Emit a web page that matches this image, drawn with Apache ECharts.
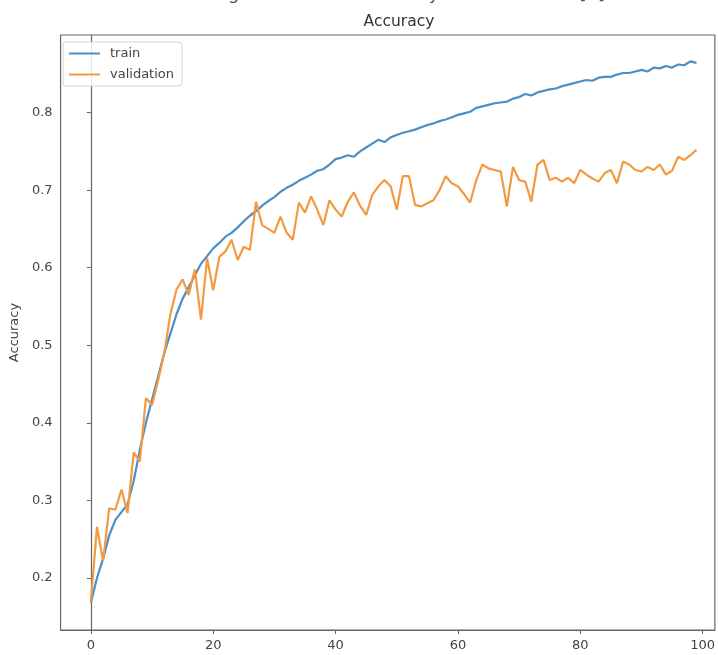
<!DOCTYPE html>
<html>
<head>
<meta charset="utf-8">
<script src="https://cdn.jsdelivr.net/npm/echarts@6/dist/echarts.min.js"></script>
<style>
  html, body { margin: 0; padding: 0; background: #fff; }
  #chart { width: 718px; height: 655px; }
</style>
</head>
<body>
<div id="chart"></div>
<script>
// accuracy per epoch
var trainAcc = [
  0.168, 0.200, 0.225, 0.255, 0.275, 0.285, 0.295, 0.325, 0.365, 0.400,
  0.430, 0.460, 0.490, 0.515, 0.540, 0.560, 0.575, 0.590, 0.605, 0.615,
  0.625, 0.632, 0.640, 0.645, 0.652, 0.660, 0.667, 0.673, 0.680, 0.686,
  0.691, 0.698, 0.703, 0.707, 0.712, 0.716, 0.720, 0.725, 0.727, 0.733,
  0.740, 0.742, 0.745, 0.743, 0.750, 0.755, 0.760, 0.765, 0.762, 0.768,
  0.771, 0.774, 0.776, 0.778, 0.781, 0.784, 0.786, 0.789, 0.791, 0.794,
  0.797, 0.799, 0.801, 0.806, 0.808, 0.810, 0.812, 0.813, 0.814, 0.818,
  0.820, 0.824, 0.822, 0.826, 0.828, 0.830, 0.831, 0.834, 0.836, 0.838,
  0.840, 0.842, 0.841, 0.845, 0.846, 0.846, 0.849, 0.851, 0.851, 0.853,
  0.855, 0.853, 0.858, 0.857, 0.860, 0.858, 0.862, 0.861, 0.866, 0.864
];
var valAcc = [
  0.170, 0.266, 0.222, 0.290, 0.288, 0.314, 0.284, 0.362, 0.350, 0.432,
  0.423, 0.455, 0.490, 0.540, 0.572, 0.585, 0.565, 0.598, 0.533, 0.612,
  0.571, 0.614, 0.621, 0.636, 0.610, 0.627, 0.623, 0.685, 0.655, 0.650,
  0.645, 0.666, 0.645, 0.636, 0.684, 0.671, 0.692, 0.675, 0.655, 0.687,
  0.675, 0.666, 0.685, 0.697, 0.680, 0.668, 0.694, 0.705, 0.713, 0.705,
  0.675, 0.718, 0.718, 0.681, 0.679, 0.683, 0.687, 0.700, 0.718, 0.709,
  0.705, 0.695, 0.684, 0.713, 0.733, 0.728, 0.726, 0.724, 0.679, 0.730,
  0.713, 0.711, 0.685, 0.733, 0.739, 0.713, 0.716, 0.711, 0.716, 0.709,
  0.726, 0.720, 0.715, 0.711, 0.722, 0.726, 0.709, 0.737, 0.733, 0.726,
  0.724, 0.730, 0.726, 0.733, 0.720, 0.725, 0.743, 0.739, 0.745, 0.752
];
var seriesNames = ['train', 'validation'];
var xTicks = [0, 20, 40, 60, 80, 100];
var yTicks = [0.2, 0.3, 0.4, 0.5, 0.6, 0.7, 0.8];

var font = 'DejaVu Sans';
var axisColor = '#666';

function pairs(vals) {
  return vals.map(function (v, i) { return [i, v]; });
}

var chart = echarts.init(document.getElementById('chart'));
chart.setOption({
  backgroundColor: '#fff',
  animation: false,
  title: {
    text: 'Accuracy',
    left: 394,
    top: 9,
    textAlign: 'center',
    textStyle: { fontFamily: font, fontSize: 15.5, fontWeight: 'normal', color: '#333' }
  },
  graphic: [{
    type: 'text',
    left: 214,
    top: -15,
    style: {
      text: 'Figure 4. Model Accuracy and Validation [5]',
      fontFamily: font, fontSize: 18, fill: '#555'
    }
  }],
  legend: {
    orient: 'vertical',
    left: 63,
    top: 42,
    padding: [4, 8, 4, 6],
    itemGap: 6,
    itemWidth: 31,
    itemHeight: 2,
    icon: 'rect',
    borderColor: '#d4d4d4',
    borderWidth: 1,
    borderRadius: 3,
    backgroundColor: 'rgba(255,255,255,0.85)',
    textStyle: { fontFamily: font, fontSize: 13, color: '#444', lineHeight: 15, padding: [0, 0, 0, 5] },
    data: seriesNames
  },
  grid: {
    left: 59, right: 0, top: 35, bottom: 25,
    show: true, borderColor: axisColor, borderWidth: 1.2, backgroundColor: '#fff'
  },
  xAxis: {
    type: 'value',
    min: -4.95,
    max: 102,
    splitLine: { show: false },
    axisLine: { show: true, lineStyle: { color: axisColor, width: 1.2 } },
    axisTick: { show: true, length: 4, customValues: xTicks, lineStyle: { color: axisColor } },
    axisLabel: { margin: 9, fontFamily: font, fontSize: 13, color: '#444', customValues: xTicks }
  },
  yAxis: {
    type: 'value',
    min: 0.133,
    max: 0.9,
    name: 'Accuracy',
    nameLocation: 'middle',
    nameGap: 38,
    nameTextStyle: { fontFamily: font, fontSize: 13, color: '#444' },
    splitLine: { show: false },
    axisLine: { show: true, lineStyle: { color: axisColor, width: 1.2 } },
    axisTick: { show: true, length: 4, customValues: yTicks, lineStyle: { color: axisColor } },
    axisLabel: {
      margin: 8, fontFamily: font, fontSize: 13, color: '#444', customValues: yTicks,
      formatter: function (v) { return v.toFixed(1); }
    }
  },
  series: [
    {
      name: seriesNames[0],
      type: 'line',
      data: pairs(trainAcc),
      showSymbol: false,
      symbol: 'none',
      itemStyle: { color: '#4a8fc6' },
      lineStyle: { color: '#4a8fc6', width: 2.2 }
    },
    {
      name: seriesNames[1],
      type: 'line',
      data: pairs(valAcc),
      showSymbol: false,
      symbol: 'none',
      itemStyle: { color: '#f39a40' },
      lineStyle: { color: '#f39a40', width: 2.2 }
    }
  ]
});
</script>
</body>
</html>
